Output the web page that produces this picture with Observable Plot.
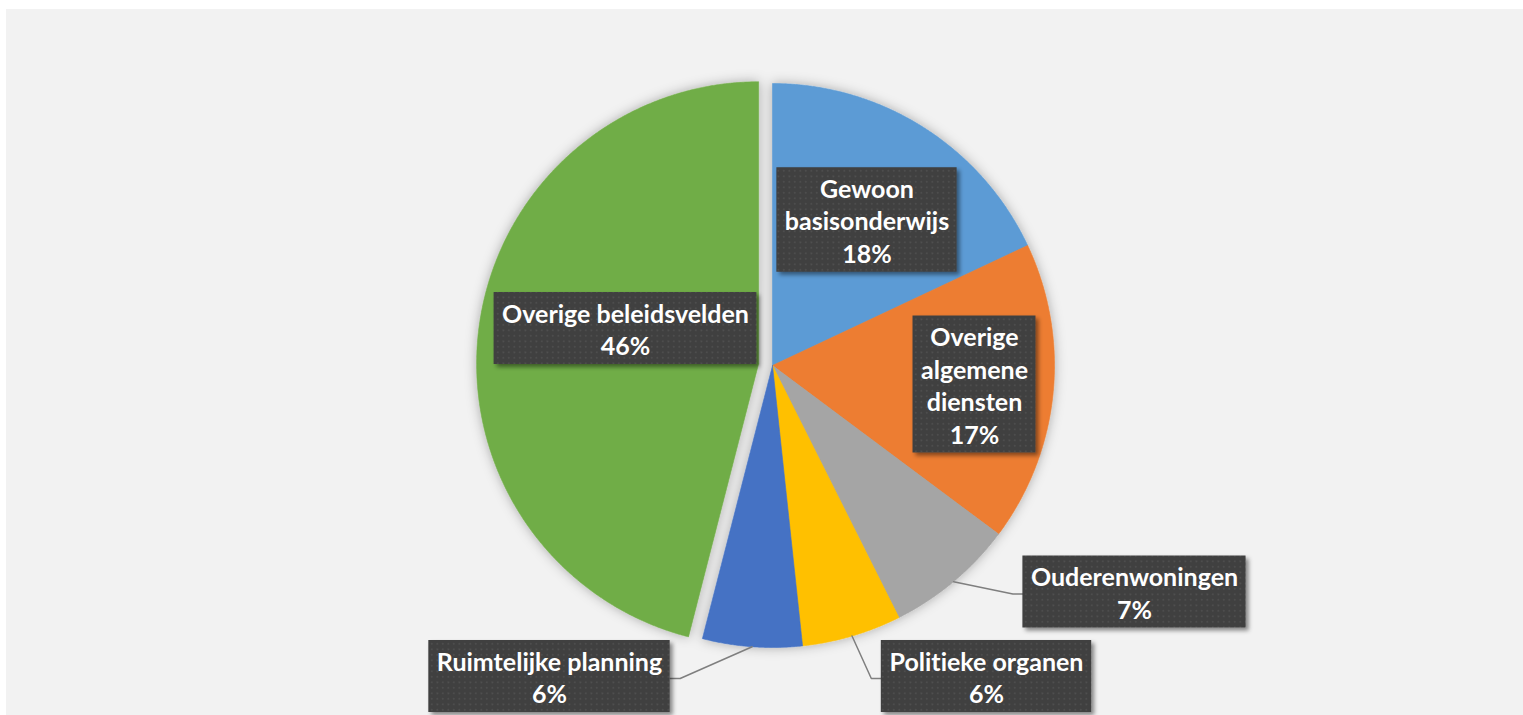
<!DOCTYPE html>
<html><head><meta charset="utf-8">
<script src="https://cdn.jsdelivr.net/npm/d3@7"></script>
<script src="https://cdn.jsdelivr.net/npm/@observablehq/plot@0.6"></script>
<style>
html,body{margin:0;padding:0;background:#fff;width:1523px;height:715px;overflow:hidden;}
#chart{position:absolute;left:6px;top:9px;}
#chart text, #chart tspan{font-variant-ligatures:none;font-feature-settings:"liga" 0, "clig" 0;}
</style></head><body><div id="chart"></div>
<script>
// ---- data ----
const categories = ["Gewoon basisonderwijs","Overige algemene diensten","Ouderenwoningen","Politieke organen","Ruimtelijke planning","Overige beleidsvelden"];
const values = [18.0, 17.2, 7.4, 5.7, 5.7, 46.0];
const percentLabels = ["18%","17%","7%","6%","6%","46%"];
const labelLines = [["Gewoon","basisonderwijs"],["Overige","algemene","diensten"],["Ouderenwoningen"],["Politieke organen"],["Ruimtelijke planning"],["Overige beleidsvelden"]];
const sliceColors = ["#5B9BD5","#ED7D31","#A5A5A5","#FFC000","#4472C4","#70AD47"];

// ---- layout ----
const W = 1517, H = 706;
const CX = 766, CY = 356;      // pie centre (px within svg)
const R = 282;                 // pie radius (scale units = px)
const explode = [0,0,0,0,0,14];
const labelCenter = [[94.5,-145.5],[202,19],[362,226.5],[214,311],[-223,311],[-147,-37]];
const hasLeader = [false,false,true,true,true,false];
const FONT = 25, LINEH = 32.5, PADX = 8, PADY = 3.5;
const fontFamily = "Lato";

const arcs = d3.pie().sort(null).value(d => d)(values);
const pt = (a, r) => [r * Math.sin(a), -r * Math.cos(a)];

// slice outlines
const slicePts = [];
arcs.forEach((a, i) => {
  const mid = (a.startAngle + a.endAngle) / 2;
  const [ox, oy] = pt(mid, explode[i]);
  const n = Math.max(2, Math.ceil((a.endAngle - a.startAngle) / (Math.PI / 720)));
  slicePts.push({k: i, cat: categories[i], x: ox, y: oy});
  for (let j = 0; j <= n; j++) {
    const t = a.startAngle + (a.endAngle - a.startAngle) * j / n;
    const [px, py] = pt(t, R);
    slicePts.push({k: i, cat: categories[i], x: ox + px, y: oy + py});
  }
  slicePts.push({k: i, cat: categories[i], x: ox, y: oy});
});

// label boxes
const ctx = document.createElement("canvas").getContext("2d");
ctx.font = `bold ${FONT}px ${fontFamily}`;
const labels = arcs.map((a, i) => {
  const lines = [...labelLines[i], percentLabels[i]];
  const tw = d3.max(lines, l => ctx.measureText(l).width);
  const w = tw + 2 * PADX, h = lines.length * LINEH + 2 * PADY;
  const [cx, cy] = labelCenter[i];
  return {i, text: lines.join("\n"), cx, cy, x1: cx - w/2, x2: cx + w/2, y1: cy - h/2, y2: cy + h/2, mid: (a.startAngle + a.endAngle)/2};
});

// leader lines
const leaderPts = [];
labels.forEach(l => {
  if (!hasLeader[l.i]) return;
  const [sx, sy] = pt(l.mid, R);
  const right = l.cx > sx;
  const ex = right ? l.x1 : l.x2;
  const ey = l.cy + 2;
  leaderPts.push({k: l.i, x: sx, y: sy});
  leaderPts.push({k: l.i, x: ex + (right ? -10 : 10), y: ey});
  leaderPts.push({k: l.i, x: ex, y: ey});
});

const svg = Plot.plot({
  width: W, height: H,
  margin: 0,
  x: {domain: [-CX, W - CX], range: [0, W], axis: null},
  y: {domain: [-CY, H - CY], range: [0, H], axis: null},
  color: {domain: categories, range: sliceColors},
  style: {background: "#f2f2f2", overflow: "visible"},
  marks: [
    Plot.line(slicePts, {x: "x", y: "y", z: "k", fill: "cat", stroke: "cat", strokeWidth: 0.6, curve: "linear"}),
    Plot.line(leaderPts, {x: "x", y: "y", z: "k", stroke: "#7f7f7f", strokeWidth: 1.5}),
    Plot.rect(labels, {x1: "x1", x2: "x2", y1: "y1", y2: "y2", fill: "url(#dots)"}),
    Plot.text(labels, {x: "cx", y: "cy", text: "text", fill: "white", fontWeight: "bold", fontSize: FONT, fontFamily, lineHeight: LINEH / FONT, lineAnchor: "middle"})
  ]
});

const ns = "http://www.w3.org/2000/svg";
const defs = document.createElementNS(ns, "defs");
defs.innerHTML = `
<pattern id="dots" patternUnits="userSpaceOnUse" width="5.5" height="5.5">
  <rect width="5.5" height="5.5" fill="#3f3f3f"/>
  <rect x="1.5" y="1.5" width="1.6" height="1.6" fill="#545454"/>
</pattern>
<filter id="pieShadow" x="-20%" y="-20%" width="140%" height="140%">
  <feDropShadow dx="0" dy="0" stdDeviation="6" flood-color="#000" flood-opacity="0.3"/>
</filter>
<filter id="boxShadow" x="-20%" y="-20%" width="140%" height="140%">
  <feDropShadow dx="3" dy="3" stdDeviation="2" flood-color="#000" flood-opacity="0.45"/>
</filter>`;
svg.insertBefore(defs, svg.firstChild);
const groups = [...svg.children].filter(n => n.tagName.toLowerCase() === "g");
groups[0].setAttribute("filter", "url(#pieShadow)");
groups[2].setAttribute("filter", "url(#boxShadow)");
document.getElementById("chart").appendChild(svg);
</script>
</body></html>
